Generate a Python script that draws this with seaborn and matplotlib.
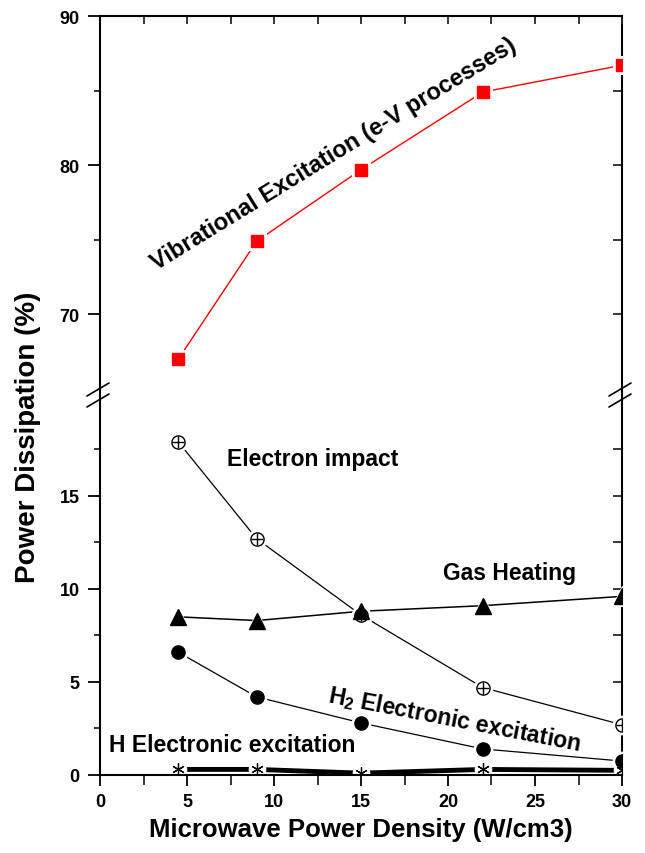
import matplotlib
matplotlib.use("Agg")
import matplotlib.pyplot as plt
from matplotlib.lines import Line2D
import seaborn as sns

# Microwave power density (W/cm3) and the share of power in each channel (%)
power_density = [4.5, 9, 15, 22, 30]
vibrational = [67.0, 74.9, 79.7, 84.9, 86.7]
electron_impact = [17.9, 12.7, 8.6, 4.7, 2.7]
gas_heating = [8.5, 8.3, 8.8, 9.1, 9.6]
h2_electronic = [6.6, 4.2, 2.8, 1.4, 0.75]
h_electronic = [0.3, 0.3, 0.1, 0.3, 0.25]

x_ticks = [0, 5, 10, 15, 20, 25, 30]
x_minor = [2.5, 7.5, 12.5, 17.5, 22.5, 27.5]
x_tick_labels = ["0", "5", "10", "15", "20", "25", "30"]
upper_ticks = [70, 80, 90]
upper_minor = [75, 85]
lower_ticks = [0, 5, 10, 15]
lower_minor = [2.5, 7.5, 12.5, 17.5]

sns.set_theme(style="ticks")
plt.rcParams["font.family"] = ["Liberation Sans", "DejaVu Sans"]
plt.rcParams["mathtext.fontset"] = "custom"
plt.rcParams["mathtext.rm"] = "Liberation Sans:bold"
plt.rcParams["mathtext.bf"] = "Liberation Sans:bold"
plt.rcParams["mathtext.it"] = "Liberation Sans:bold:italic"

W, H = 645, 854
fig = plt.figure(figsize=(W / 100, H / 100), dpi=100)
fig.patch.set_facecolor("white")


def fx(px):
    return px / W


def fy(py):
    return 1 - py / H


left, right = fx(100), fx(622)
ax_top = fig.add_axes([left, fy(390), right - left, fy(17) - fy(390)])
ax_bot = fig.add_axes([left, fy(776), right - left, fy(402) - fy(776)])


def draw_series(ax, y, color, marker, size, lw, face=None, halo=4, extra=None, mew=1.0):
    sns.lineplot(x=power_density, y=y, ax=ax, color=color, lw=lw, zorder=2,
                 sort=False, errorbar=None)
    sns.lineplot(x=power_density, y=y, ax=ax, lw=0, marker="o" if extra or marker == (6, 2, 0) else marker,
                 markersize=size + halo, color="white", markeredgecolor="white",
                 markerfacecolor="white", zorder=3, sort=False, errorbar=None)
    sns.lineplot(x=power_density, y=y, ax=ax, lw=0, marker=marker,
                 markersize=size, color=color, markeredgecolor=color,
                 markerfacecolor=face if face else color, markeredgewidth=mew,
                 zorder=4, sort=False, errorbar=None)
    if extra:
        sns.lineplot(x=power_density, y=y, ax=ax, lw=0, marker=extra,
                     markersize=size - 1, color=color, markeredgecolor=color,
                     markeredgewidth=1.0, zorder=5, sort=False, errorbar=None)


# Upper panel: vibrational excitation
draw_series(ax_top, vibrational, "#ff0000", "s", 9, 1.0)

# Lower panel: remaining channels
draw_series(ax_bot, electron_impact, "black", "o", 9.5, 0.9, face="white", extra="+")
draw_series(ax_bot, gas_heating, "black", "^", 11, 1.1)
draw_series(ax_bot, h2_electronic, "black", "o", 9.5, 0.9)
draw_series(ax_bot, h_electronic, "black", (6, 2, 0), 9, 3.5, halo=3, mew=0.9)

for ax in (ax_top, ax_bot):
    ax.set_xlim(0, 30)
    ax.set_facecolor("white")
    ax.set_axisbelow(False)
    for s in ax.spines.values():
        s.set_linewidth(1.5)
        s.set_color("black")
        s.set_zorder(10)
    ax.set_xlabel("")
    ax.set_ylabel("")
    ax.set_xticks(x_ticks)
    ax.set_xticks(x_minor, minor=True)
    ax.tick_params(axis="y", which="major", direction="out", length=8.5, width=1.3,
                   labelsize=13, pad=6, colors="black")
    ax.tick_params(axis="y", which="minor", direction="out", length=4.5, width=1.3)
    ax.spines["right"].set_visible(False)

# Upper axes styling
ax_top.set_ylim(65, 90)
ax_top.set_yticks(upper_ticks)
ax_top.set_yticks(upper_minor, minor=True)
ax_top.spines["bottom"].set_visible(False)
ax_top.xaxis.tick_top()
ax_top.tick_params(axis="x", which="both", direction="in", length=6, width=1.3,
                   labeltop=False, labelbottom=False, bottom=False)

# Lower axes styling
ax_bot.set_ylim(0, 20.1)
ax_bot.set_yticks(lower_ticks)
ax_bot.set_yticks(lower_minor, minor=True)
ax_bot.spines["top"].set_visible(False)
ax_bot.set_xticklabels(x_tick_labels)
ax_bot.tick_params(axis="x", which="major", direction="out", length=8, width=1.3,
                   labelsize=13, pad=5, top=False, colors="black")
ax_bot.tick_params(axis="x", which="minor", direction="out", length=7, width=1.3, top=False)

for ax in (ax_top, ax_bot):
    for lab in ax.get_xticklabels() + ax.get_yticklabels():
        lab.set_fontweight("bold")

# Right-hand axes with inward ticks
for ax, major, minor in ((ax_top, upper_ticks, upper_minor), (ax_bot, lower_ticks, lower_minor)):
    sec = ax.secondary_yaxis("right")
    sec.set_yticks(major)
    sec.set_yticks(minor, minor=True)
    sec.tick_params(axis="y", which="both", direction="in", length=6.5, width=1.3,
                    labelright=False)
    for s in sec.spines.values():
        s.set_linewidth(1.5)
        s.set_color("black")

# Axis break: spines bridging the gap plus double slashes
for xp in (100, 622):
    fig.add_artist(Line2D([fx(xp), fx(xp)], [fy(390), fy(402)], color="black", lw=1.5))
    for y0 in (397, 408):
        fig.add_artist(Line2D([fx(xp - 13), fx(xp + 9)], [fy(y0), fy(y0 - 13)],
                              color="black", lw=1.2))

# Annotations
ax_top.text(13.45, 80.8, "Vibrational Excitation (e-V processes)", rotation=31.5,
            rotation_mode="anchor", ha="center", va="center", fontsize=17,
            fontweight="bold", color="black")
ax_bot.text(7.3, 17.0, "Electron impact", ha="left", va="center", fontsize=16.5,
            fontweight="bold", color="black")
ax_bot.text(19.7, 10.9, "Gas Heating", ha="left", va="center", fontsize=16.5,
            fontweight="bold", color="black")
ax_bot.text(20.4, 3.0, r"H$_{\mathbf{2}}$ Electronic excitation", rotation=-11,
            rotation_mode="anchor", ha="center", va="center", fontsize=16.5,
            fontweight="bold", color="black")
ax_bot.text(0.5, 1.65, "H Electronic excitation", ha="left", va="center", fontsize=16.5,
            fontweight="bold", color="black")

fig.text(fx(28), fy(437), "Power Dissipation (%)", rotation=90, ha="center",
         va="center", fontsize=20, fontweight="bold", color="black")
fig.text(fx(361), fy(830), "Microwave Power Density (W/cm3)", ha="center",
         va="center", fontsize=18.5, fontweight="bold", color="black")

fig.savefig("out.png", dpi=100, facecolor="white")
